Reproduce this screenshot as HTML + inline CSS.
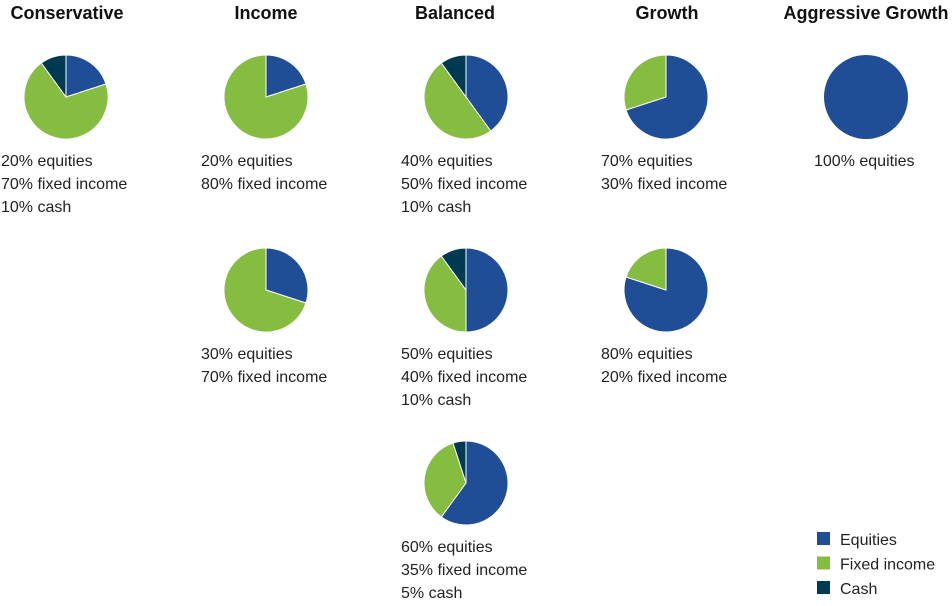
<!DOCTYPE html>
<html><head><meta charset="utf-8"><style>
body{margin:0;background:#fff;width:952px;height:601px;overflow:hidden;font-family:"Liberation Sans",sans-serif;}
svg text{font-family:"Liberation Sans",sans-serif;}
</style></head><body>
<svg id="chart" width="952" height="601" xmlns="http://www.w3.org/2000/svg"></svg>
<script>
const categories=["Conservative","Income","Balanced","Growth","Aggressive Growth"];
const headerX=[67,266,455,667,866];
const equities=[[20],[20,30],[40,50,60],[70,80],[100]];
const fixedIncome=[[70],[80,70],[50,40,35],[30,20],[0]];
const cash=[[10],[0,0],[10,10,5],[0,0],[0]];
const seriesNames=["Equities","Fixed income","Cash"];
const colors=["#1f4e96","#84bd40","#003a52"];
const svg=document.getElementById('chart');
const NS="http://www.w3.org/2000/svg";
function mk(t,a){const e=document.createElementNS(NS,t);for(const k in a)e.setAttribute(k,a[k]);svg.appendChild(e);return e;}
const colX=i=>66+i*200;
const rowY=j=>97+j*193;
const R=42;
function pt(cx,cy,f){const a=f*2*Math.PI;return [cx+R*Math.sin(a),cy-R*Math.cos(a)];}
categories.forEach((c,i)=>{
  const h=mk('text',{x:headerX[i],y:19,'text-anchor':'middle','font-size':18,'font-weight':'bold',fill:'#111'});
  
  
  h.textContent=c;
  equities[i].forEach((e,j)=>{
    const vals=[e,fixedIncome[i][j],cash[i][j]];
    const cx=colX(i)+(i==2?0:0),cy=rowY(j);
    let s=0;
    vals.forEach((v,k)=>{
      if(v<=0)return;
      let el;
      if(v>=100){el=mk('circle',{cx:cx,cy:cy,r:R,fill:colors[k]});}
      else{
        const p0=pt(cx,cy,s/100),p1=pt(cx,cy,(s+v)/100);
        el=mk('path',{d:`M${cx},${cy}L${p0[0]},${p0[1]}A${R},${R} 0 ${v>50?1:0} 1 ${p1[0]},${p1[1]}Z`,fill:colors[k],stroke:'#fff','stroke-width':1});
      }
      
      
      s+=v;
    });
    const lines=[e+"% equities"];
    if(vals[1]>0)lines.push(vals[1]+"% fixed income");
    if(vals[2]>0)lines.push(vals[2]+"% cash");
    const tx=(i==4)?814:colX(i)-65;
    lines.forEach((l,n)=>{
      const t=mk('text',{x:tx,y:cy+69+n*23,'font-size':16,fill:'#222'});
      
      
      t.textContent=l;
    });
  });
});
seriesNames.forEach((n,k)=>{
  const r=mk('rect',{x:817,y:532+k*24.5,width:13,height:13,fill:colors[k]});
  
  
  const t=mk('text',{x:840,y:545+k*24.5,'font-size':16,fill:'#222'});
  
  
  t.textContent=n;
});
</script>
</body></html>
